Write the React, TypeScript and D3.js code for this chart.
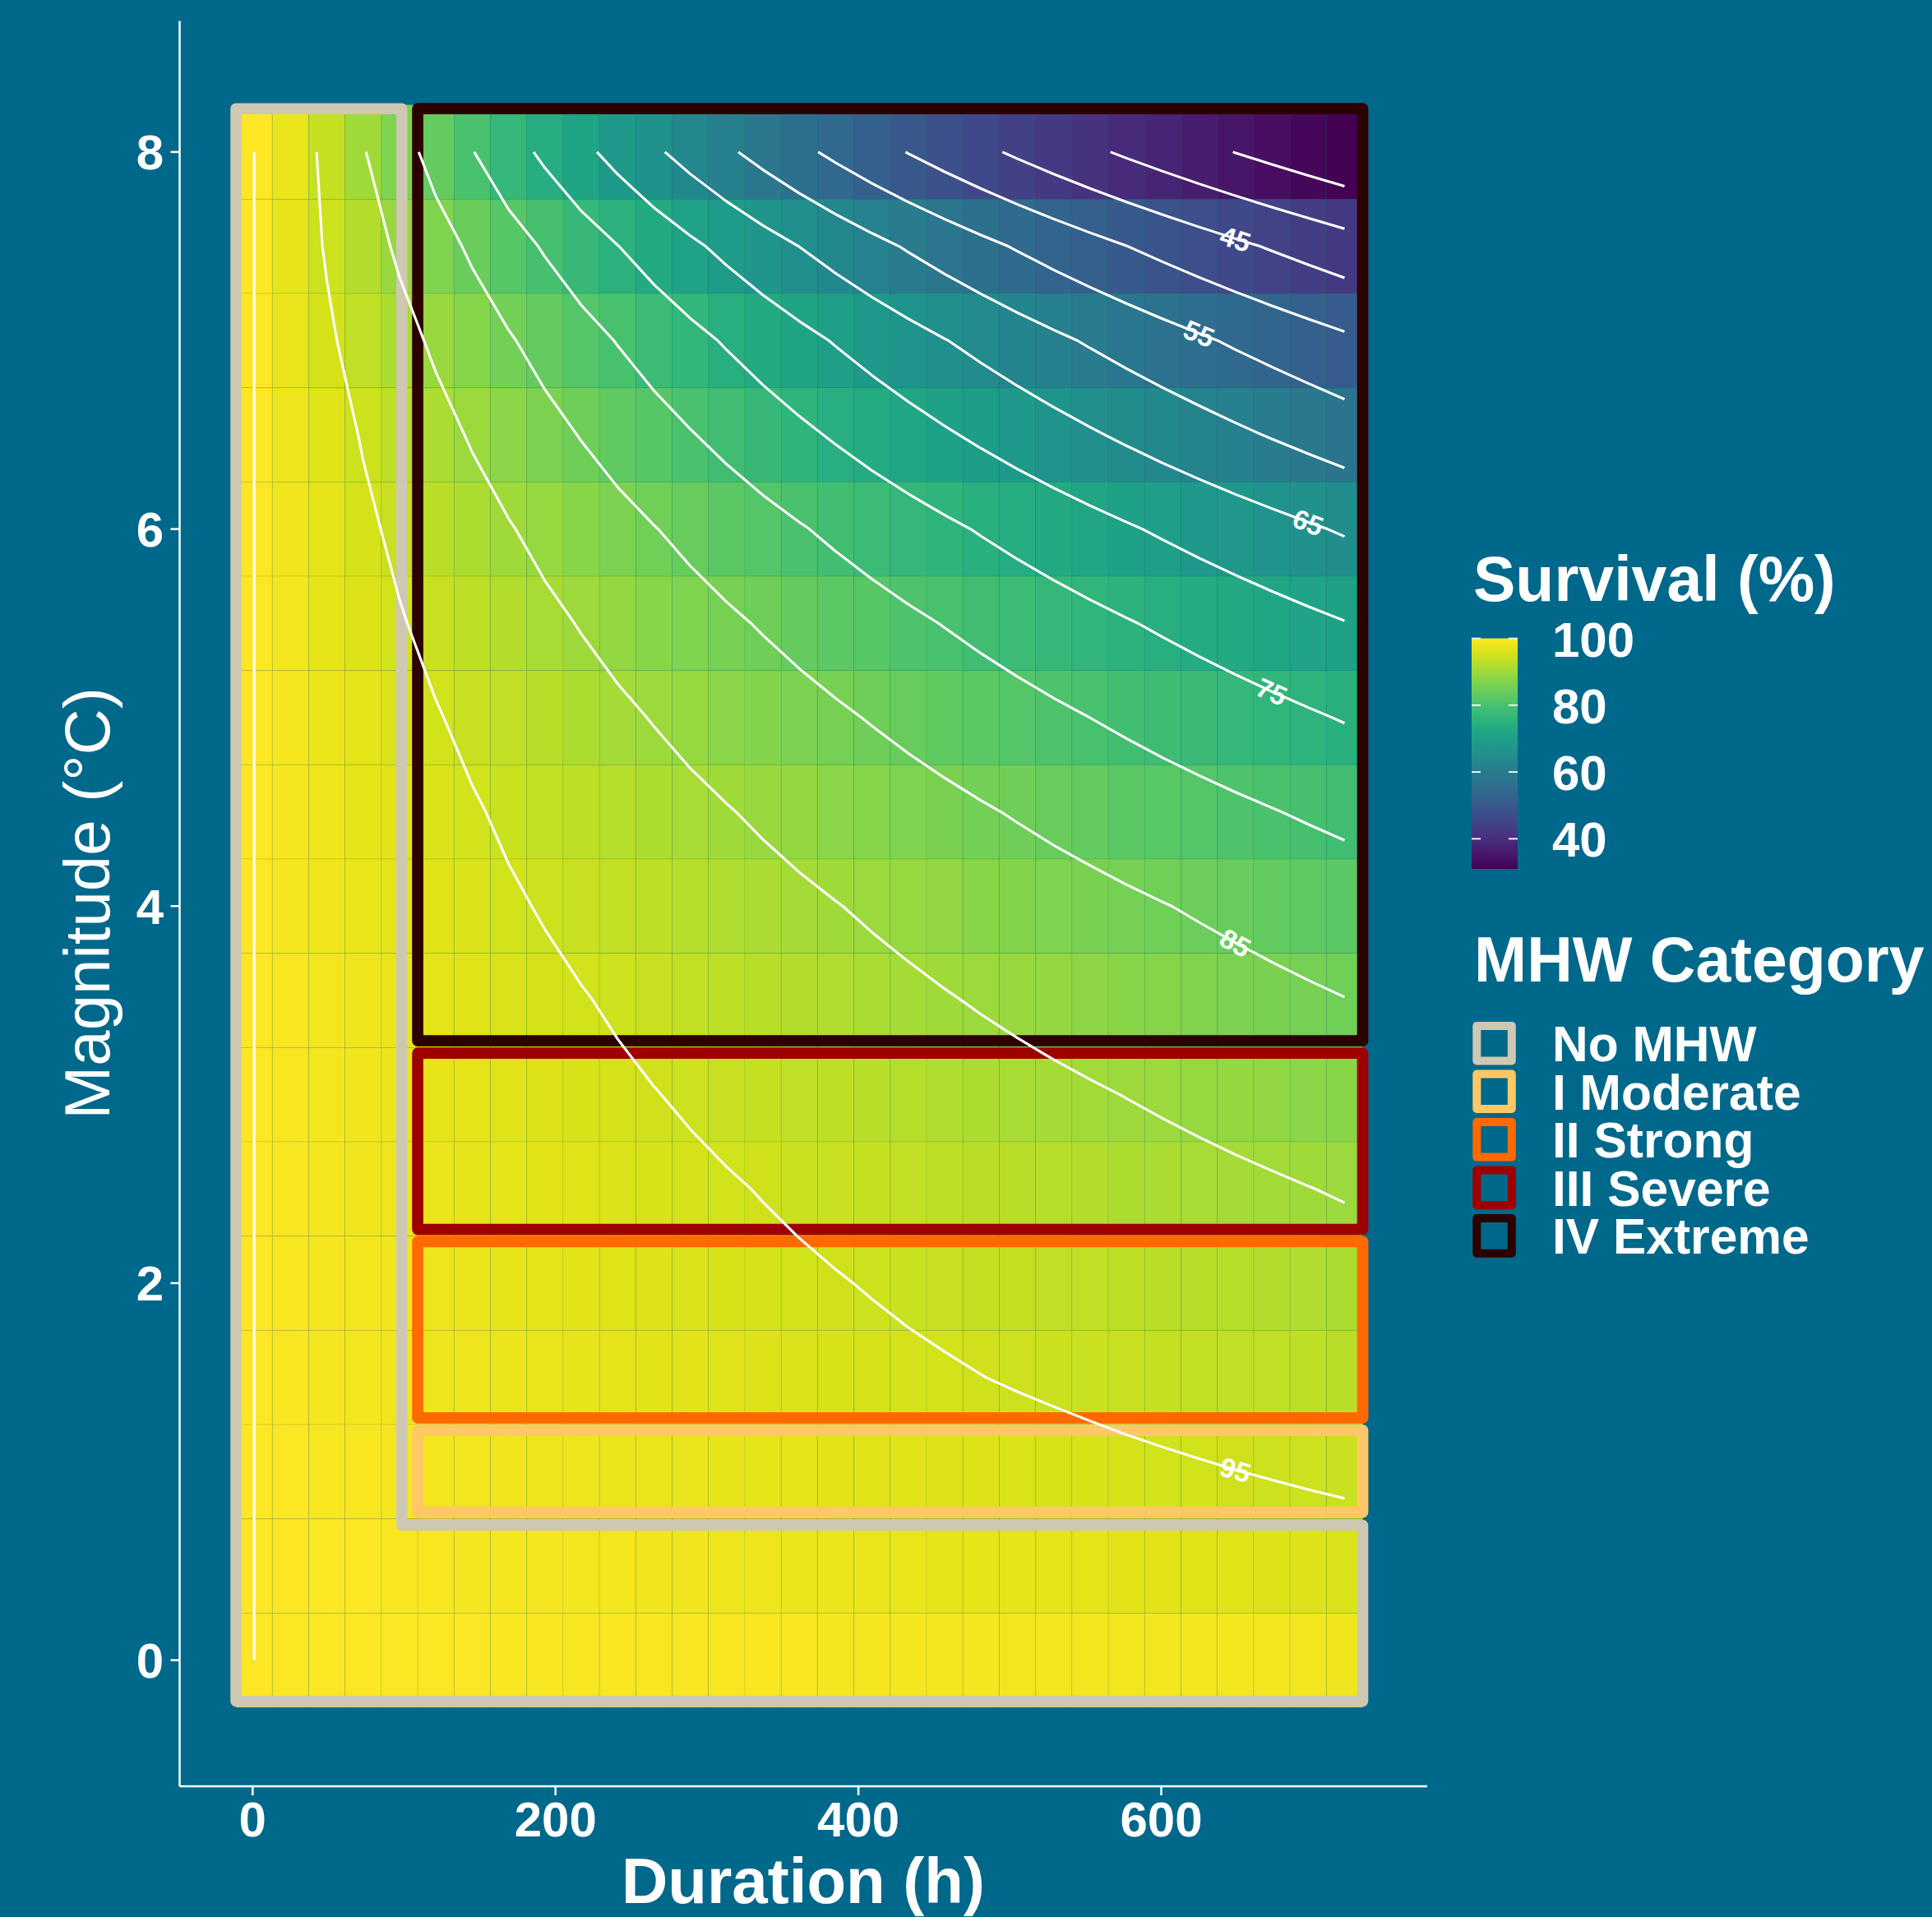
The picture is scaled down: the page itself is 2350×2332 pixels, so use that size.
import React from 'react';
import * as d3 from 'd3';

// ---------- data ----------
const durations = [1, 25, 49, 73, 97, 121, 145, 169, 193, 217, 241, 265, 289, 313, 337, 361, 385, 409, 433, 457, 481, 505, 529, 553, 577, 601, 625, 649, 673, 697, 721];
const magnitudes = [0, 0.5, 1, 1.5, 2, 2.5, 3, 3.5, 4, 4.5, 5, 5.5, 6, 6.5, 7, 7.5, 8];

const survivalM0 = [100, 99.7, 99.6, 99.6, 99.6, 99.5, 99.5, 99.4, 99.4, 99.4, 99.3, 99.3, 99.3, 99.2, 99.2, 99.2, 99.1, 99.1, 99.1, 99.0, 99.0, 98.9, 98.9, 98.9, 98.8, 98.8, 98.8, 98.7, 98.7, 98.7, 98.6];
const survivalM05 = [100, 99.82, 99.69, 99.56, 99.44, 99.31, 99.18, 99.06, 98.93, 98.81, 98.68, 98.56, 98.43, 98.31, 98.18, 98.06, 97.93, 97.81, 97.69, 97.56, 97.44, 97.31, 97.19, 97.07, 96.94, 96.82, 96.70, 96.58, 96.45, 96.33, 96.21];
const survivalM1 = [100, 99.59, 99.41, 99.23, 99.05, 98.87, 98.70, 98.52, 98.34, 98.16, 97.99, 97.81, 97.63, 97.46, 97.28, 97.11, 96.93, 96.76, 96.58, 96.41, 96.24, 96.06, 95.89, 95.72, 95.54, 95.37, 95.20, 95.03, 94.86, 94.69, 94.52];
const survivalM15 = [100, 99.24, 99.02, 98.79, 98.56, 98.34, 98.12, 97.89, 97.67, 97.45, 97.22, 97.00, 96.78, 96.56, 96.34, 96.12, 95.90, 95.68, 95.46, 95.25, 95.03, 94.81, 94.60, 94.38, 94.16, 93.95, 93.74, 93.52, 93.31, 93.10, 92.88];
const survivalM2 = [100, 99.24, 98.96, 98.68, 98.40, 98.13, 97.85, 97.57, 97.30, 97.03, 96.75, 96.48, 96.21, 95.94, 95.67, 95.40, 95.13, 94.86, 94.59, 94.33, 94.06, 93.80, 93.53, 93.27, 93.01, 92.75, 92.48, 92.22, 91.96, 91.71, 91.45];
const survivalM25 = [100, 99.28, 98.93, 98.59, 98.25, 97.91, 97.57, 97.23, 96.89, 96.55, 96.22, 95.88, 95.55, 95.22, 94.89, 94.56, 94.23, 93.90, 93.58, 93.25, 92.93, 92.60, 92.28, 91.96, 91.64, 91.32, 91.01, 90.69, 90.38, 90.06, 89.75];
const survivalM3 = [100, 99.25, 98.82, 98.40, 97.98, 97.56, 97.14, 96.73, 96.31, 95.90, 95.49, 95.08, 94.68, 94.27, 93.87, 93.47, 93.07, 92.67, 92.28, 91.88, 91.49, 91.10, 90.71, 90.32, 89.93, 89.55, 89.17, 88.79, 88.41, 88.03, 87.65];
const survivalM35 = [100, 99.31, 98.78, 98.25, 97.73, 97.21, 96.69, 96.18, 95.67, 95.16, 94.66, 94.15, 93.65, 93.15, 92.66, 92.17, 91.68, 91.19, 90.71, 90.22, 89.74, 89.27, 88.79, 88.32, 87.85, 87.39, 86.92, 86.46, 86.00, 85.54, 85.09];
const survivalM4 = [100, 99.06, 98.44, 97.82, 97.20, 96.59, 95.98, 95.38, 94.78, 94.18, 93.59, 93.00, 92.41, 91.83, 91.25, 90.68, 90.11, 89.54, 88.98, 88.42, 87.86, 87.31, 86.76, 86.22, 85.67, 85.13, 84.60, 84.07, 83.54, 83.01, 82.49];
const survivalM45 = [100, 99.09, 98.31, 97.55, 96.78, 96.03, 95.28, 94.53, 93.79, 93.06, 92.33, 91.61, 90.89, 90.18, 89.48, 88.78, 88.08, 87.40, 86.71, 86.04, 85.36, 84.70, 84.03, 83.38, 82.72, 82.08, 81.44, 80.80, 80.17, 79.54, 78.92];
const survivalM5 = [100, 98.95, 98.00, 97.06, 96.12, 95.20, 94.28, 93.37, 92.47, 91.58, 90.70, 89.83, 88.96, 88.11, 87.26, 86.42, 85.59, 84.76, 83.95, 83.14, 82.34, 81.55, 80.76, 79.99, 79.22, 78.45, 77.70, 76.95, 76.21, 75.48, 74.75];
const survivalM55 = [100, 98.66, 97.50, 96.36, 95.24, 94.12, 93.02, 91.94, 90.86, 89.80, 88.75, 87.71, 86.69, 85.67, 84.67, 83.68, 82.70, 81.74, 80.78, 79.84, 78.90, 77.98, 77.07, 76.17, 75.28, 74.40, 73.53, 72.67, 71.82, 70.98, 70.15];
const survivalM6 = [100, 98.49, 97.07, 95.67, 94.28, 92.92, 91.58, 90.25, 88.95, 87.66, 86.39, 85.14, 83.91, 82.70, 81.50, 80.32, 79.16, 78.02, 76.89, 75.78, 74.68, 73.60, 72.54, 71.49, 70.45, 69.43, 68.43, 67.44, 66.47, 65.50, 64.56];
const survivalM65 = [100, 98.32, 96.52, 94.75, 93.02, 91.32, 89.64, 88.00, 86.39, 84.81, 83.26, 81.73, 80.24, 78.77, 77.32, 75.91, 74.52, 73.15, 71.82, 70.50, 69.21, 67.94, 66.70, 65.48, 64.28, 63.10, 61.95, 60.81, 59.70, 58.61, 57.53];
const survivalM7 = [100, 97.77, 95.59, 93.46, 91.37, 89.33, 87.34, 85.39, 83.49, 81.63, 79.81, 78.03, 76.28, 74.58, 72.92, 71.29, 69.70, 68.15, 66.63, 65.14, 63.69, 62.27, 60.88, 59.52, 58.19, 56.89, 55.63, 54.38, 53.17, 51.99, 50.83];
const survivalM75 = [100, 97.44, 94.66, 91.96, 89.33, 86.78, 84.30, 81.89, 79.56, 77.28, 75.08, 72.93, 70.85, 68.83, 66.86, 64.96, 63.10, 61.30, 59.55, 57.85, 56.20, 54.59, 53.03, 51.52, 50.05, 48.62, 47.23, 45.88, 44.57, 43.30, 42.06];
const survivalM8 = [100, 97.72, 93.93, 90.28, 86.78, 83.41, 80.17, 77.06, 74.07, 71.19, 68.43, 65.77, 63.22, 60.76, 58.40, 56.13, 53.95, 51.86, 49.84, 47.91, 46.05, 44.26, 42.54, 40.89, 39.30, 37.78, 36.31, 34.90, 33.55, 32.24, 30.99];

const survivalRows = [survivalM0, survivalM05, survivalM1, survivalM15, survivalM2, survivalM25, survivalM3, survivalM35, survivalM4, survivalM45, survivalM5, survivalM55, survivalM6, survivalM65, survivalM7, survivalM75, survivalM8];

const contourLevels = [35, 40, 45, 50, 55, 60, 65, 70, 75, 80, 85, 90, 95, 100];
const labelledLevels = [45, 55, 65, 75, 85, 95];
const labelDurations = [649, 625, 697, 673, 649, 649];

const xTicks = [0, 200, 400, 600];
const yTicks = [0, 2, 4, 6, 8];
const legendTicks = [40, 60, 80, 100];

const categoryNames = ['No MHW', 'I Moderate', 'II Strong', 'III Severe', 'IV Extreme'];
const categoryColors = ['#CEC8B3', '#FFC866', '#FF6900', '#9E0000', '#2D0000'];
// category boxes (duration h / magnitude °C) for I..IV
const boxXmin = [109, 109, 109, 109];
const boxXmax = [733, 733, 733, 733];
const boxYmin = [0.785, 1.285, 2.285, 3.285];
const boxYmax = [1.22, 2.22, 3.22, 8.23];
// No MHW outline vertices
const noMhwD = [-11, 733, 733, 98.5, 98.5, -11];
const noMhwM = [-0.218, -0.218, 0.715, 0.715, 8.23, 8.23];

// ---------- styles ----------
const BG = '#00688B';
const FONT = "'Liberation Sans', Arial, Helvetica, sans-serif";
const W = 2350;
const H = 2332;

export default function App() {
  const x = d3.scaleLinear().domain([-48.2, 775.6]).range([218.5, 1736]);
  const y = d3.scaleLinear().domain([-0.669, 8.695]).range([2173, 25.5]);

  const flat = survivalRows.flat();
  const sMin = d3.min(flat) as number;
  const sMax = d3.max(flat) as number;
  const color = d3.scaleSequential(d3.interpolateViridis).domain([sMin, sMax]);

  const dStep = durations[1] - durations[0];
  const mStep = magnitudes[1] - magnitudes[0];
  const nx = durations.length;
  const ny = magnitudes.length;

  const tiles: any[] = [];
  survivalRows.forEach((row, i) => {
    row.forEach((v, j) => {
      tiles.push({ d: durations[j], m: magnitudes[i], v, key: `${i}-${j}` });
    });
  });

  // contours from the survival grid
  const gen = d3.contours().size([nx, ny]).thresholds(contourLevels);
  const polys = gen(flat);
  const isOut = (p: number[]) => p[0] <= 0 || p[0] >= nx || p[1] <= 0 || p[1] >= ny;
  const toData = (p: number[]) => [durations[0] + (p[0] - 0.5) * dStep, magnitudes[0] + (p[1] - 0.5) * mStep];

  const contourLines: { level: number; pts: number[][] }[] = [];
  polys.forEach((poly) => {
    poly.coordinates.forEach((polygon) => {
      polygon.forEach((ringRaw) => {
        let ring = ringRaw.slice();
        if (ring.length > 1) {
          const a = ring[0], b = ring[ring.length - 1];
          if (a[0] === b[0] && a[1] === b[1]) ring = ring.slice(0, -1);
        }
        const start = ring.findIndex(isOut);
        if (start < 0) {
          contourLines.push({ level: poly.value, pts: ring.concat([ring[0]]).map(toData) });
          return;
        }
        let cur: number[][] = [];
        for (let k = 1; k <= ring.length; k++) {
          const p = ring[(start + k) % ring.length];
          if (isOut(p)) {
            if (cur.length > 1) contourLines.push({ level: poly.value, pts: cur.map(toData) });
            cur = [];
          } else cur.push(p);
        }
        if (cur.length > 1) contourLines.push({ level: poly.value, pts: cur.map(toData) });
      });
    });
  });

  const line = d3.line<number[]>().x((p) => x(p[0])).y((p) => y(p[1]));

  const pointAtD = (pts: number[][], target: number) => {
    for (let k = 0; k < pts.length - 1; k++) {
      const a = pts[k], b = pts[k + 1];
      if ((a[0] - target) * (b[0] - target) <= 0 && a[0] !== b[0]) {
        const t = (target - a[0]) / (b[0] - a[0]);
        return [a[0] + t * (b[0] - a[0]), a[1] + t * (b[1] - a[1])];
      }
    }
    return null;
  };

  const labels: any[] = [];
  labelledLevels.forEach((lev, i) => {
    const target = labelDurations[i];
    for (const cl of contourLines.filter((c) => c.level === lev)) {
      const p = pointAtD(cl.pts, target);
      if (!p) continue;
      const a = pointAtD(cl.pts, target - 14) || p;
      const b = pointAtD(cl.pts, target + 14) || p;
      const ang = (Math.atan2(y(b[1]) - y(a[1]), x(b[0]) - x(a[0])) * 180) / Math.PI;
      labels.push({ lev, px: x(p[0]), py: y(p[1]), ang });
      break;
    }
  });

  // legend colourbar
  const barTop = 776.6;
  const barBottom = 1057;
  const barX = 1790;
  const barW = 56;
  const yLeg = d3.scaleLinear().domain([sMin, sMax]).range([barBottom, barTop]);
  const gradStops = d3.range(0, 1.0001, 0.05);

  const keyY0 = 1269.2;
  const keyStep = 58.55;

  const noMhwPath =
    noMhwD.map((d, k) => `${k === 0 ? 'M' : 'L'}${x(d)},${y(noMhwM[k])}`).join('') + 'Z';

  return (
    <svg width={W} height={H} style={{ position: 'absolute', left: 0, top: 0, display: 'block' }} fontFamily={FONT}>
      <defs>
        <linearGradient id="survGrad" x1="0" y1="1" x2="0" y2="0">
          {gradStops.map((t) => (
            <stop key={t} offset={t} stopColor={color(sMin + t * (sMax - sMin))} />
          ))}
        </linearGradient>
      </defs>
      <rect x={0} y={0} width={W} height={H} fill={BG} />

      {/* tiles */}
      <g>
        {tiles.map((t) => (
          <rect
            key={t.key}
            x={x(t.d - dStep / 2)}
            y={y(t.m + mStep / 2)}
            width={x(t.d + dStep / 2) - x(t.d - dStep / 2)}
            height={y(t.m - mStep / 2) - y(t.m + mStep / 2)}
            fill={color(t.v)}
            stroke="#3a7a30"
            strokeOpacity={0.09}
            strokeWidth={1.1}
          />
        ))}
      </g>

      {/* category boxes */}
      <path d={noMhwPath} fill="none" stroke={categoryColors[0]} strokeWidth={13.5} strokeLinejoin="round" />
      {boxXmin.map((_, k) => (
        <rect
          key={k}
          x={x(boxXmin[k])}
          y={y(boxYmax[k])}
          width={x(boxXmax[k]) - x(boxXmin[k])}
          height={y(boxYmin[k]) - y(boxYmax[k])}
          fill="none"
          stroke={categoryColors[k + 1]}
          strokeWidth={13.7}
          strokeLinejoin="round"
        />
      ))}

      {/* contours */}
      <g fill="none" stroke="#ffffff" strokeWidth={3.1} strokeLinejoin="round">
        {contourLines.map((c, k) => (
          <path key={k} d={line(c.pts) || ''} />
        ))}
      </g>
      <g fill="#ffffff" fontSize={33} fontWeight="bold" textAnchor="middle">
        {labels.map((l, k) => (
          <text key={k} transform={`translate(${l.px},${l.py}) rotate(${l.ang})`} dy="0.36em">
            {l.lev}
          </text>
        ))}
      </g>

      {/* axes */}
      <line x1={218.5} x2={218.5} y1={25.5} y2={2173} stroke="#fff" strokeWidth={2.5} />
      <line x1={218.5} x2={1736} y1={2173} y2={2173} stroke="#fff" strokeWidth={2.5} />
      {yTicks.map((t) => (
        <g key={t}>
          <line x1={207.5} x2={218.5} y1={y(t)} y2={y(t)} stroke="#fff" strokeWidth={2.5} />
          <text x={199} y={y(t) + 21.5} textAnchor="end" fill="#fff" fontWeight="bold" fontSize={60}>
            {t}
          </text>
        </g>
      ))}
      {xTicks.map((t) => (
        <g key={t}>
          <line x1={x(t)} x2={x(t)} y1={2173} y2={2184} stroke="#fff" strokeWidth={2.5} />
          <text x={x(t)} y={2234} textAnchor="middle" fill="#fff" fontWeight="bold" fontSize={60}>
            {t}
          </text>
        </g>
      ))}
      <text x={977} y={2315} textAnchor="middle" fill="#fff" fontWeight="bold" fontSize={78}>
        Duration (h)
      </text>
      <text transform="translate(133,1099) rotate(-90)" textAnchor="middle" fill="#fff" fontSize={78}>
        Magnitude (°C)
      </text>

      {/* legend: survival */}
      <text x={1792} y={731} fill="#fff" fontWeight="bold" fontSize={77}>
        Survival (%)
      </text>
      <rect x={barX} y={barTop} width={barW} height={barBottom - barTop} fill="url(#survGrad)" />
      {legendTicks.map((t) => (
        <g key={t}>
          <line x1={barX} x2={barX + 11} y1={yLeg(t)} y2={yLeg(t)} stroke="#fff" strokeWidth={1.8} />
          <line x1={barX + barW - 11} x2={barX + barW} y1={yLeg(t)} y2={yLeg(t)} stroke="#fff" strokeWidth={1.8} />
          <text x={1888} y={yLeg(t) + 22} fill="#fff" fontWeight="bold" fontSize={60}>
            {t}
          </text>
        </g>
      ))}

      {/* legend: categories */}
      <text x={1793} y={1194} fill="#fff" fontWeight="bold" fontSize={77}>
        MHW Category
      </text>
      {categoryNames.map((name, k) => {
        const cy = keyY0 + k * keyStep;
        return (
          <g key={name}>
            <rect
              x={1796.3}
              y={cy - 21.3}
              width={42.5}
              height={42.6}
              fill="none"
              stroke={categoryColors[k]}
              strokeWidth={10}
              strokeLinejoin="round"
            />
            <text x={1888} y={cy + 22} fill="#fff" fontWeight="bold" fontSize={60.5}>
              {name}
            </text>
          </g>
        );
      })}
    </svg>
  );
}
